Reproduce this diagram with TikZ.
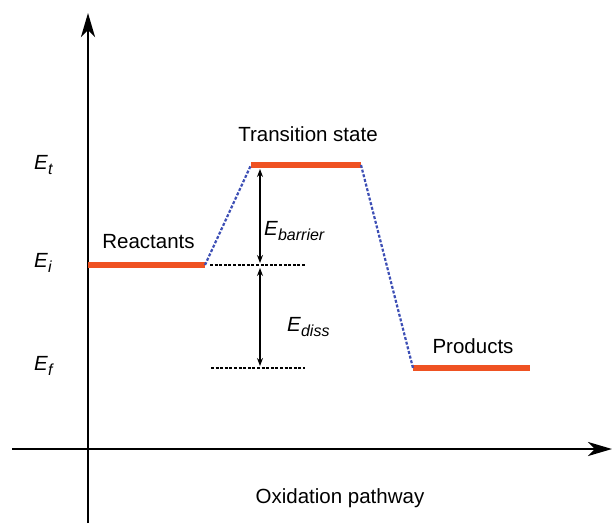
\documentclass[tikz,border=0pt]{standalone}
\usepackage{fontspec}
\setmainfont{Liberation Sans}
\usetikzlibrary{arrows.meta}
\definecolor{barorange}{HTML}{EF5222}
\definecolor{pathblue}{HTML}{3D4FB5}
\newcommand{\enlab}[1]{\textit{E}\raisebox{-5pt}{\fontsize{16}{16}\selectfont\itshape #1}}
\tikzset{
  axis/.style={line width=2.8pt,-{Stealth[length=24pt,width=14pt,inset=7pt]}},
  level/.style={line width=6pt,barorange},
  pathline/.style={line width=2.2pt,pathblue,dash pattern=on 3pt off 1.8pt},
  refline/.style={line width=1.2pt,black,dash pattern=on 3pt off 1.6pt},
  gap/.style={line width=1.2pt,{Stealth[length=8pt,width=6pt]}-{Stealth[length=8pt,width=6pt]}},
  lbl/.style={font=\fontsize{20.5}{22}\selectfont,inner sep=0pt},
}
\begin{document}
\begin{tikzpicture}[x=1pt,y=-1pt]
\useasboundingbox (0,0) rectangle (612,523);
% axes
\coordinate (ybot) at (88,523);
\coordinate (ytop) at (88,13);
\coordinate (xl) at (12,449);
\coordinate (xr) at (612,449);
\draw[axis] (ybot) -- (ytop);
\draw[axis] (xl) -- (xr);
% levels
\coordinate (r1) at (88,265);
\coordinate (r2) at (205,265);
\coordinate (t1) at (251,165);
\coordinate (t2) at (361,165);
\coordinate (p1) at (413,368);
\coordinate (p2) at (530,368);
\draw[level] (r1) -- (r2);
\draw[level] (t1) -- (t2);
\draw[level] (p1) -- (p2);
\draw[pathline] (r2) -- (t1);
\draw[pathline] (t2) -- (p1);
% reference lines
\coordinate (d1a) at (210,265);
\coordinate (d1b) at (305,265);
\coordinate (d2a) at (211,368);
\coordinate (d2b) at (305,368);
\draw[refline] (d1a) -- (d1b);
\draw[refline] (d2a) -- (d2b);
% double arrows
\coordinate (aT) at (260,169);
\coordinate (aM1) at (260,263);
\coordinate (aM2) at (260,268);
\coordinate (aB) at (260,366);
\draw[gap] (aT) -- (aM1);
\draw[gap] (aM2) -- (aB);
% labels
\node[lbl,anchor=base west] (Et) at (34,169.5) {\enlab{t}};
\node[lbl,anchor=base west] (Ei) at (34,267.5) {\enlab{i}};
\node[lbl,anchor=base west] (Ef) at (34,370) {\enlab{f}};
\node[lbl,anchor=base] (reac) at (148.5,248) {Reactants};
\node[lbl,anchor=base] (ts) at (308,141.5) {Transition state};
\node[lbl,anchor=base] (prod) at (473,353.5) {Products};
\node[lbl,anchor=base west] (eb) at (264,235) {\enlab{barrier}};
\node[lbl,anchor=base west] (ed) at (287,331.5) {\enlab{diss}};
\node[lbl,anchor=base] (ox) at (340,503) {Oxidation pathway};
\end{tikzpicture}
\end{document}
